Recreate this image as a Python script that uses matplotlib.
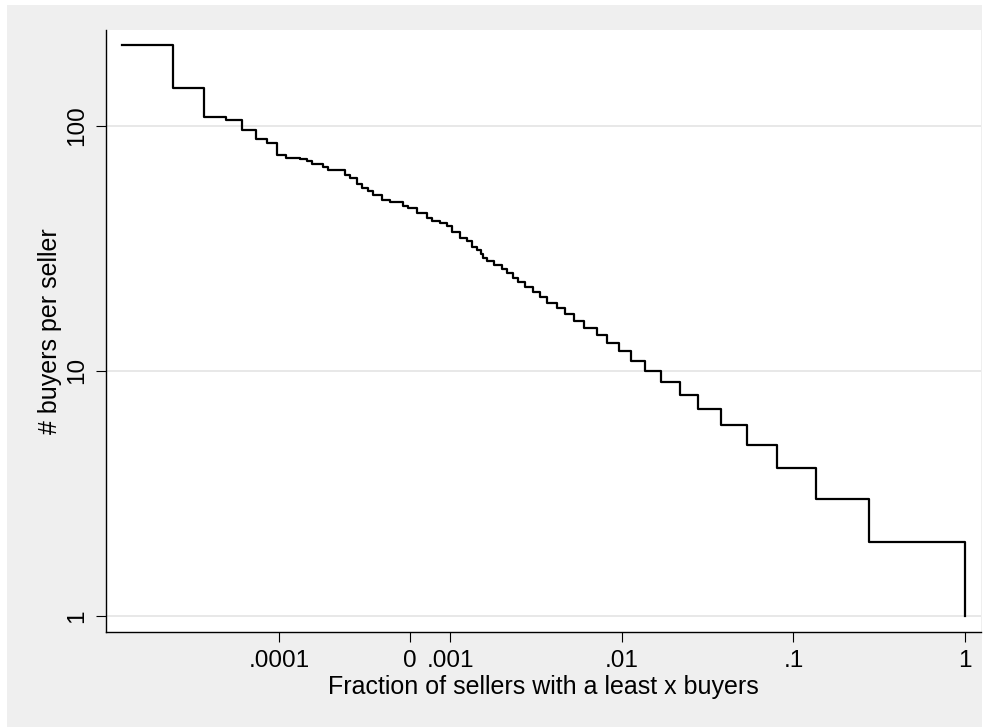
import matplotlib
matplotlib.use("Agg")
import matplotlib.pyplot as plt
from matplotlib.patches import Rectangle

# fraction of sellers having at least `buyers` buyers (complementary cdf)
frac = [1.21e-5, 2.42e-5, 3.67e-5, 4.89e-5, 6.11e-5, 7.32e-5, 8.48e-5, 9.70e-5,
        1.094e-4, 1.326e-4, 1.45e-4, 1.564e-4, 1.81e-4, 1.94e-4, 2.43e-4, 2.59e-4,
        2.84e-4, 3.04e-4, 3.32e-4, 3.55e-4, 3.97e-4, 4.44e-4, 5.31e-4, 5.67e-4,
        6.35e-4, 7.26e-4, 7.77e-4, 8.69e-4, 9.50e-4, 1.016e-3, 1.136e-3, 1.242e-3,
        1.329e-3, 1.422e-3, 1.506e-3, 1.55e-3, 1.63e-3, 1.80e-3, 1.99e-3, 2.13e-3,
        2.31e-3, 2.47e-3, 2.72e-3, 3.04e-3, 3.33e-3, 3.64e-3, 4.16e-3, 4.66e-3,
        5.27e-3, 6.03e-3, 7.18e-3, 8.15e-3, 9.64e-3, 0.01127, 0.0136, 0.0169,
        0.0219, 0.0279, 0.0377, 0.0533, 0.0798, 0.1346, 0.277, 1.0]
buyers = [213, 143, 109, 106, 96, 88, 85, 76,
          74, 73, 72, 70, 68, 66, 63, 61,
          58, 56, 54, 52, 50, 49, 47, 46,
          44, 42, 41, 40, 39, 37, 35, 34,
          32, 31, 30, 29, 28, 27, 26, 25,
          24, 23, 22, 21, 20, 19, 18, 17,
          16, 15, 14, 13, 12, 11, 10, 9,
          8, 7, 6, 5, 4, 3, 2, 1]

xticks = [1e-4, 5.77e-4, 1e-3, 1e-2, 1e-1, 1]
xtick_labels = [".0001", "0", ".001", ".01", ".1", "1"]
yticks = [1, 10, 100]
ytick_labels = ["1", "10", "100"]

plt.rcParams['font.family'] = ['Liberation Sans', 'DejaVu Sans']

fig = plt.figure(figsize=(9.97, 7.27), dpi=100)
fig.patch.set_facecolor('white')
# grey graph region behind the plot
fig.patches.append(Rectangle((7 / 997, 0), 975 / 997, 722 / 727,
                             transform=fig.transFigure, facecolor='#efefef',
                             edgecolor='none', zorder=-10))

ax = fig.add_axes([106 / 997, 1 - 632 / 727, 875 / 997, 602 / 727])
ax.set_facecolor('white')
ax.step(frac, buyers, where='post', color='black', lw=1.6, zorder=3)

ax.set_xscale('log')
ax.set_yscale('log')
ax.set_xlim(9.8e-6, 1.24)
ax.set_ylim(0.86, 246)

ax.set_xticks(xticks, labels=xtick_labels)
ax.set_yticks(yticks, labels=ytick_labels)
ax.minorticks_off()
for lab in ax.get_yticklabels():
    lab.set_rotation(90)
    lab.set_va('center')
ax.tick_params(axis='both', direction='out', length=7, width=0.8,
               labelsize=17.5, color='black')
ax.tick_params(axis='x', pad=6)
ax.tick_params(axis='y', pad=6)

ax.yaxis.grid(True, color='#e6e6e6', lw=1.3)
ax.set_axisbelow(True)
for s in ['top', 'right']:
    ax.spines[s].set_visible(False)
for s in ['left', 'bottom']:
    ax.spines[s].set_linewidth(1.0)

ax.set_xlabel("Fraction of sellers with a least x buyers", fontsize=18, labelpad=2)
ax.set_ylabel("# buyers per seller", fontsize=18, labelpad=3)

fig.savefig("out.png", dpi=100, facecolor=fig.get_facecolor())
